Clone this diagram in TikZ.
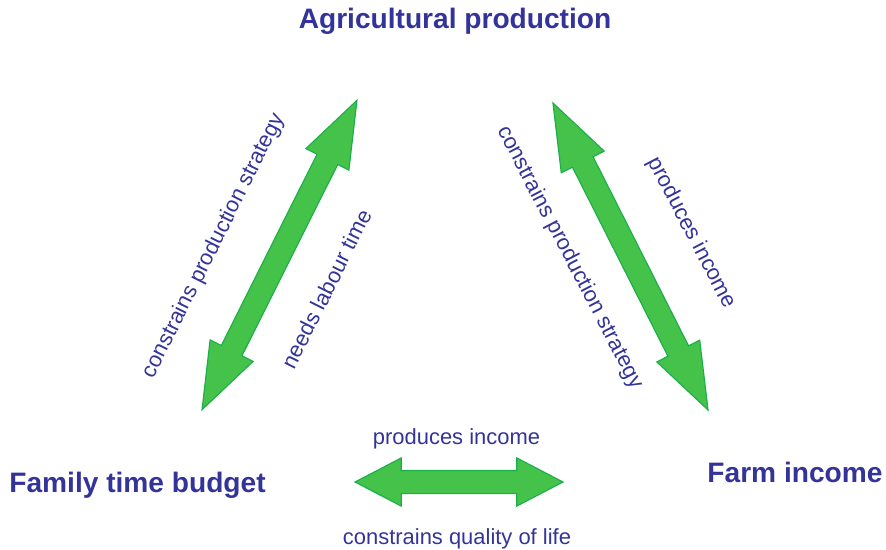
\documentclass[tikz,border=0pt]{standalone}
\usepackage{fontspec}
\setmainfont{Liberation Sans}
\usetikzlibrary{shapes.arrows}
\definecolor{labelblue}{RGB}{51,51,153}
\definecolor{arrowgreen}{RGB}{68,194,74}
\definecolor{arrowedge}{RGB}{27,175,75}

\begin{document}
\begin{tikzpicture}[x=0.025cm, y=-0.025cm, every node/.style={text=labelblue, inner sep=0pt}]
  % styles
  \tikzstyle{corner}=[font=\fontsize{20}{24}\selectfont\bfseries, anchor=base]
  \tikzstyle{relation}=[font=\fontsize{15.6}{18}\selectfont]
  \tikzstyle{linkarrow}=[double arrow, draw=arrowedge, fill=arrowgreen, line width=0.8pt, inner xsep=0pt, inner ysep=0.275cm, minimum width=0pt, double arrow head extend=0.3125cm, double arrow head indent=0pt, double arrow tip angle=40]

  \useasboundingbox (0,0) rectangle (886,549);

  % corners
  \node (production) [corner] at (455,28.5) {Agricultural production};
  \node (timebudget) [corner] at (137.5,492) {Family time budget};
  \node (income) [corner] at (795,482) {Farm income};

  % arrows
  \node (prodtime) [linkarrow, rotate=63.4, minimum height=8.65cm] at (279.5,255) {};
  \node (prodincome) [linkarrow, rotate=-63.2, minimum height=8.6cm] at (630.5,256.5) {};
  \node (timeincome) [linkarrow, double arrow tip angle=55, minimum height=5.2cm] at (459,482) {};

  % labels
  \node (strategyleft) [relation, rotate=63.4] at (214,246) {constrains production strategy};
  \node (labour) [relation, rotate=63.4] at (326.5,289) {needs labour time};
  \node (strategyright) [relation, rotate=-62.5] at (570,257.5) {constrains production strategy};
  \node (incomeright) [relation, rotate=-62.5] at (691.5,233) {produces income};
  \node (incomebottom) [relation, anchor=base] at (456.5,444) {produces income};
  \node (quality) [relation, anchor=base] at (457,544) {constrains quality of life};
\end{tikzpicture}
\end{document}
